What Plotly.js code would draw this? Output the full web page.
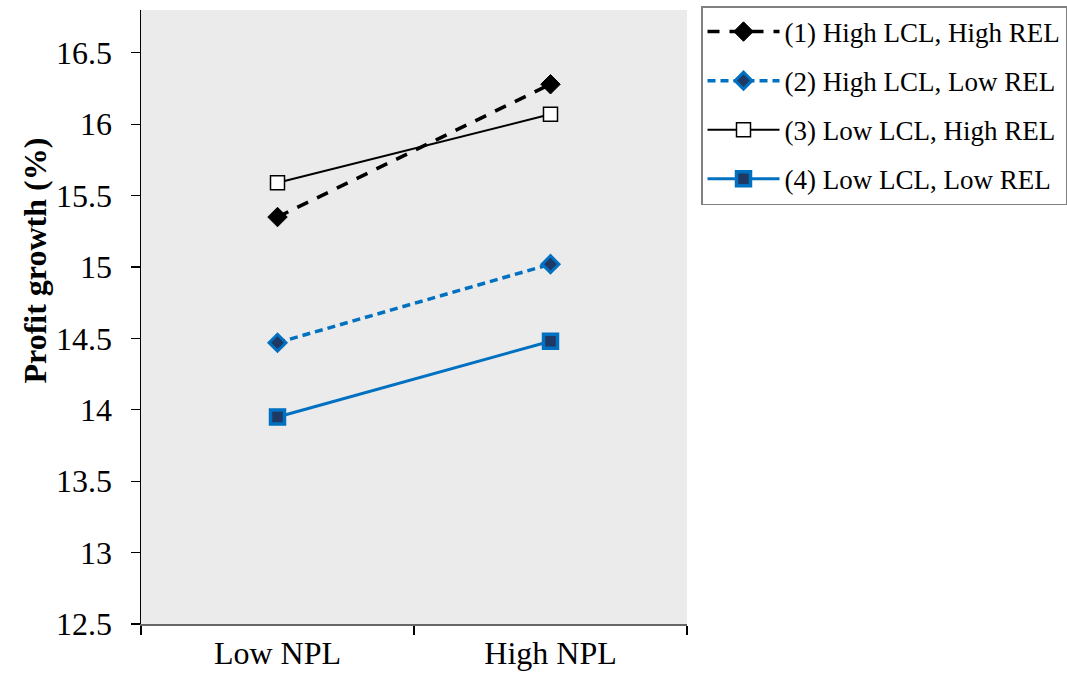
<!DOCTYPE html>
<html>
<head>
<meta charset="utf-8">
<script src="https://cdn.plot.ly/plotly-3.0.1.min.js"></script>
<style>html,body{margin:0;padding:0;background:#fff;}#chart{width:1067px;height:682px;}</style>
</head>
<body>
<div id="chart"></div>
<script>
const categories = ["Low NPL", "High NPL"];
const seriesNames = ["(1) High LCL, High REL", "(2) High LCL, Low REL", "(3) Low LCL, High REL", "(4) Low LCL, Low REL"];
const s1 = [15.35, 16.28];
const s2 = [14.47, 15.02];
const s3 = [15.59, 16.07];
const s4 = [13.95, 14.48];
const yTicks = [12.5, 13, 13.5, 14, 14.5, 15, 15.5, 16, 16.5];
const yTitle = 'Profit growth (%)';

const traces = [
  {x: categories, y: s1, name: seriesNames[0], legendgroup: 'g1', type: 'scatter', mode: 'lines+markers',
   line: {color: '#000000', width: 3.5, dash: '12px,10px'},
   marker: {symbol: 'diamond', size: 15, color: '#000000', line: {color: '#000000', width: 1}}},
  {x: categories, y: s2, name: seriesNames[1], legendgroup: 'g2', type: 'scatter', mode: 'lines+markers',
   line: {color: '#0070C0', width: 3.5, dash: '8px,5px'},
   marker: {symbol: 'diamond', size: 13, color: '#1F3864', line: {color: '#0070C0', width: 3}}},
  {x: categories, y: s3, name: seriesNames[2], legendgroup: 'g3', type: 'scatter', mode: 'lines+markers',
   line: {color: '#000000', width: 2},
   marker: {symbol: 'square', size: 14, color: '#ffffff', line: {color: '#000000', width: 1.5}}},
  {x: categories, y: s4, name: seriesNames[3], legendgroup: 'g4', type: 'scatter', mode: 'lines+markers',
   line: {color: '#0070C0', width: 3},
   marker: {symbol: 'square', size: 14, color: '#1F3864', line: {color: '#0070C0', width: 3.5}}}
];

const layout = {
  width: 1067, height: 682,
  margin: {l: 141, r: 380, t: 10, b: 58},
  paper_bgcolor: '#ffffff',
  plot_bgcolor: '#EBEBEB',
  font: {family: 'Liberation Serif, Times New Roman, serif', color: '#000000', size: 26},
  showlegend: true,
  xaxis: {
    type: 'category', range: [-0.5, 1.5], tickson: 'boundaries', automargin: false,
    ticks: 'outside', ticklen: 9, tickwidth: 1.2, tickcolor: '#000',
    showline: true, linecolor: '#666666', linewidth: 1.5,
    showgrid: false, zeroline: false,
    tickfont: {size: 32, family: 'Liberation Serif, serif'}
  },
  yaxis: {
    range: [12.5, 16.8], tickvals: yTicks, ticktext: yTicks.map(String), automargin: false,
    ticks: 'outside', ticklen: 9, tickwidth: 1.2, tickcolor: '#000',
    showline: true, linecolor: '#000000', linewidth: 1.5,
    showgrid: false, zeroline: false, ticklabelstandoff: 12,
    tickfont: {size: 32, family: 'Liberation Serif, serif'}
  },
  annotations: [{
    text: '<b>' + yTitle + '</b>', textangle: -90, showarrow: false,
    xref: 'paper', yref: 'paper', x: -106 / 546, y: 0.592, xanchor: 'center', yanchor: 'middle',
    font: {size: 32, family: 'Liberation Serif, serif', color: '#000'}
  }],
  legend: {
    xref: 'container', yref: 'container',
    x: 701 / 1067, y: 1 - 6 / 682, xanchor: 'left', yanchor: 'top',
    bgcolor: '#ffffff', bordercolor: '#808080', borderwidth: 1.5,
    font: {size: 27, family: 'Liberation Serif, serif'},
    traceorder: 'grouped', tracegroupgap: 11, itemwidth: 72
  }
};

Plotly.newPlot('chart', traces, layout, {displayModeBar: false, staticPlot: true});
</script>
</body>
</html>
